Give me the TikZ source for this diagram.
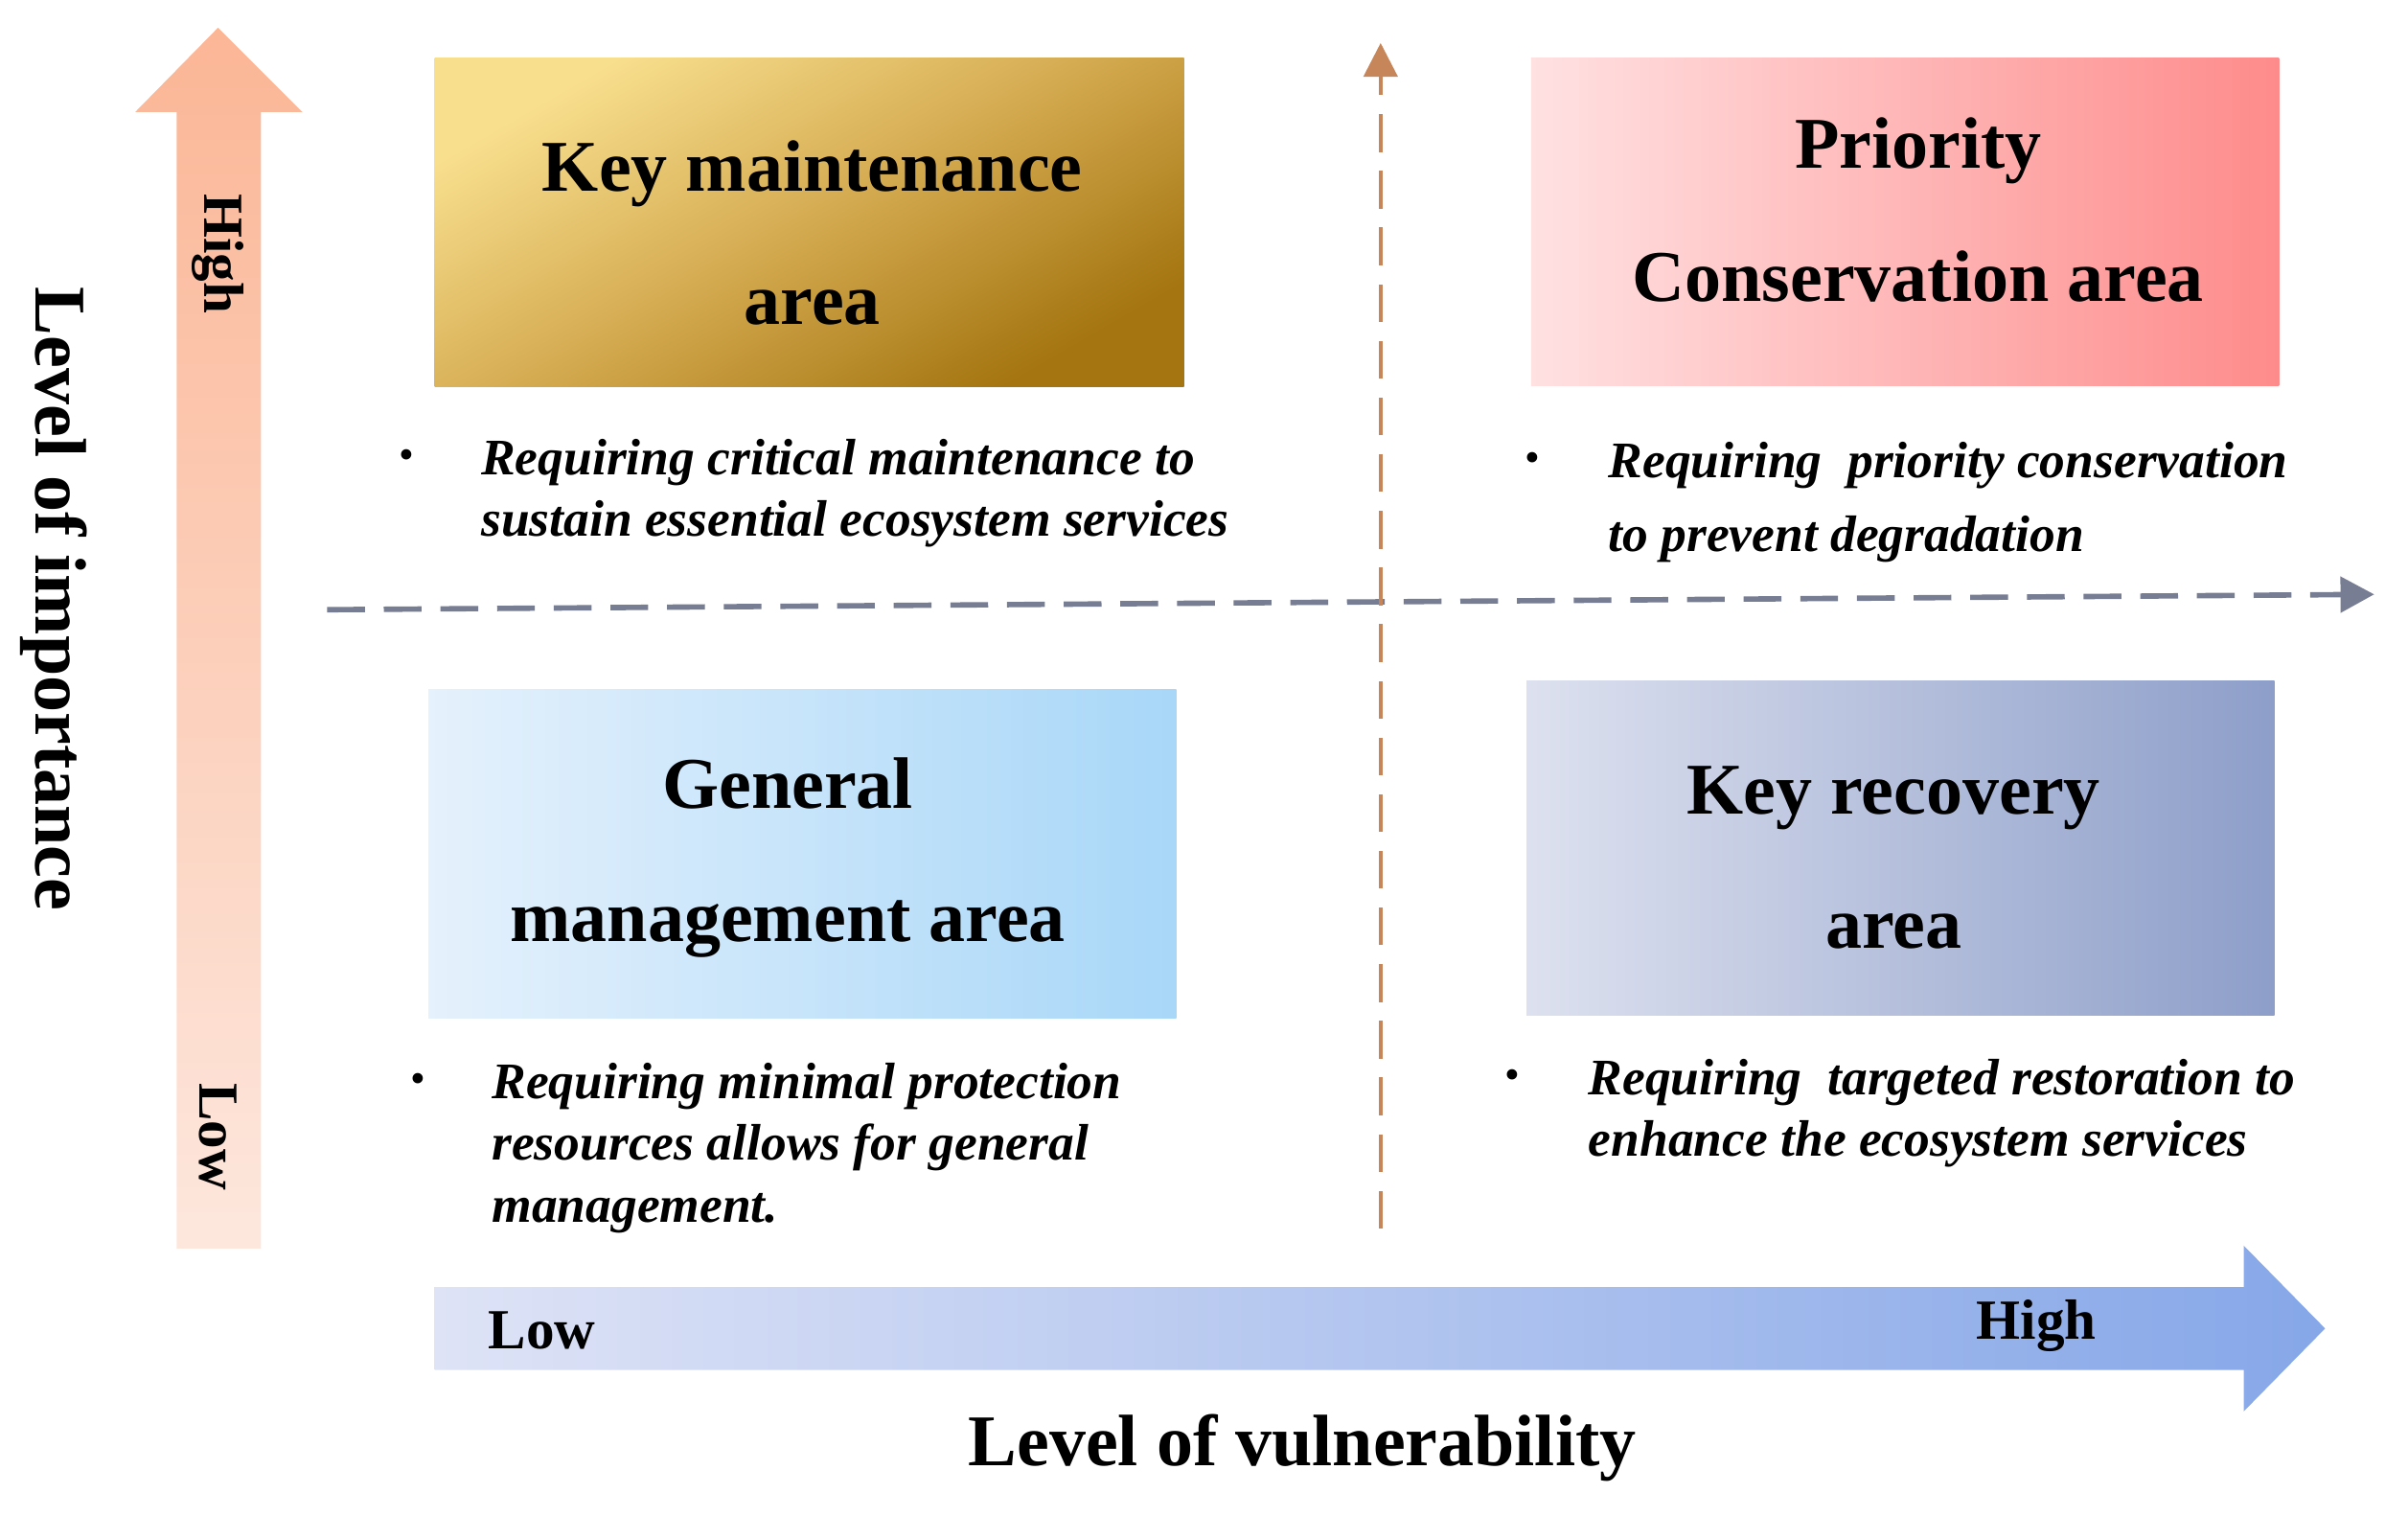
\documentclass[tikz,border=0pt]{standalone}
\usepackage{fontspec}
\setmainfont{Liberation Serif}
\usetikzlibrary{arrows.meta}
\definecolor{orgTop}{HTML}{FBB696}
\definecolor{orgBot}{HTML}{FDE7DD}
\definecolor{goldA}{HTML}{F8DF8E}
\definecolor{goldM}{HTML}{D4AA50}
\definecolor{goldB}{HTML}{A47510}
\definecolor{pinkA}{HTML}{FFE1E2}
\definecolor{pinkB}{HTML}{FE8B8B}
\definecolor{skyA}{HTML}{E5F1FC}
\definecolor{skyB}{HTML}{A8D7F8}
\definecolor{slateA}{HTML}{DDE1EF}
\definecolor{slateB}{HTML}{8D9EC9}
\definecolor{blueA}{HTML}{DEE3F6}
\definecolor{blueB}{HTML}{86A7E8}
\definecolor{grayline}{HTML}{777D92}
\definecolor{orgline}{HTML}{C6865A}
\begin{document}
\begin{tikzpicture}[x=0.02cm,y=-0.02cm,
  zone/.style={rectangle, inner sep=0pt, draw=none, minimum width=9.75cm},
  title/.style={font=\fontsize{27}{49.5}\selectfont\bfseries, align=center, inner sep=0pt},
  note/.style={font=\fontsize{19}{22.8}\selectfont\bfseries\itshape, align=left, anchor=base west, inner sep=0pt},
  dot/.style={font=\fontsize{16}{16}\selectfont, inner sep=0pt},
  axislab/.style={font=\fontsize{21}{21}\selectfont\bfseries, inner sep=0pt},
  axistitle/.style={font=\fontsize{27}{27}\selectfont\bfseries, inner sep=0pt},
  guide/.style={dash pattern=on 14pt off 7pt}
]
\useasboundingbox (0,0) rectangle (1568,987);

% importance arrow (vertical, orange)
\shade[top color=orgTop, bottom color=orgBot]
  (115,813) -- (115,73) -- (88,73) -- (142,18) -- (197,73) -- (170,73) -- (170,813) -- cycle;
\node[axislab, rotate=-90] (impHigh) at (142,165) {High};
\node[axislab, rotate=-90] (impLow) at (142,740) {Low};
\node[axistitle, rotate=-90] (impTitle) at (35,390) {Level of importance};

% vulnerability arrow (horizontal, blue)
\shade[left color=blueA, right color=blueB]
  (283,838) -- (1461,838) -- (1461,811) -- (1514,865) -- (1461,919) -- (1461,892) -- (283,892) -- cycle;
\node[axislab] (vulLow) at (353,866) {Low};
\node[axislab] (vulHigh) at (1326,863) {High};
\node[axistitle] (vulTitle) at (848,943) {Level of vulnerability};

% zone boxes
\node[zone, minimum width=9.76cm, minimum height=4.28cm,
      top color=goldA, bottom color=goldB, middle color=goldM, shading angle=30] (km) at (527,145) {};
\node[zone, minimum width=9.74cm, minimum height=4.26cm,
      left color=pinkA, right color=pinkB] (pc) at (1240.5,144.5) {};
\node[zone, minimum width=9.74cm, minimum height=4.28cm,
      left color=skyA, right color=skyB] (gm) at (522.5,556) {};
\node[zone, minimum width=9.74cm, minimum height=4.36cm,
      left color=slateA, right color=slateB] (kr) at (1237.5,552) {};

\node[title] (kmt) at (529,151.5) {Key maintenance\\area};
\node[title] (pct) at (1249,136.5) {Priority\\Conservation area};
\node[title] (gmt) at (513,558.5) {General\\management area};
\node[title] (krt) at (1233,558.5) {Key recovery\\area};

% guide axes (dashed)
\coordinate (hs) at (213,397);
\coordinate (he) at (1546,387);
\coordinate (vs) at (899,800);
\coordinate (ve) at (899,28);
\draw[grayline, line width=2pt, guide, -{Triangle[length=12.5pt,width=13pt]}] (hs) -- (he);
\draw[orgline, line width=1.4pt, guide, -{Triangle[length=12.5pt,width=12.5pt]}] (vs) -- (ve);

% bullet notes (anchor = baseline of last line)
\node[dot] (b1) at (265,299) {•};
\node[note] (n1) at (313,349) {Requiring critical maintenance to\\sustain essential ecosystem services};
\node[dot] (b2) at (998,301) {•};
\node[note, font=\fontsize{19}{27.3}\selectfont\bfseries\itshape] (n2) at (1047,359) {Requiring~ priority conservation\\to prevent degradation};
\node[dot] (b3) at (272,705) {•};
\node[note, font=\fontsize{19}{23}\selectfont\bfseries\itshape] (n3) at (320,796) {Requiring minimal protection\\resources allows for general\\management.};
\node[dot] (b4) at (985,703) {•};
\node[note] (n4) at (1034,753) {Requiring~ targeted restoration to\\enhance the ecosystem services};
\end{tikzpicture}
\end{document}
